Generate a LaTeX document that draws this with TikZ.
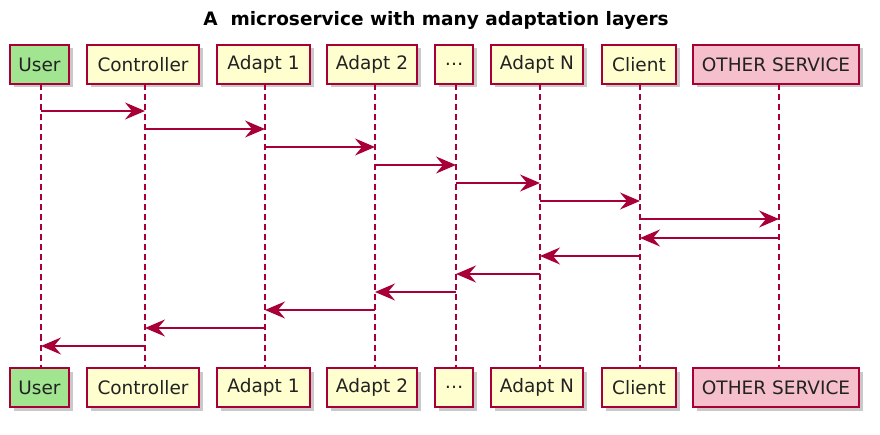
\documentclass[tikz,border=0pt]{standalone}
\usepackage{fontspec}
\setmainfont{DejaVu Sans}
\usetikzlibrary{arrows.meta,shadows}
\definecolor{pborder}{HTML}{A80036}
\definecolor{pfill}{HTML}{FEFECE}
\definecolor{pgreen}{HTML}{A2E591}
\definecolor{ppink}{HTML}{F5C0CB}
\definecolor{ptext}{HTML}{222222}
\begin{document}
\begin{tikzpicture}[x=1pt,y=-1pt,
  part/.style={draw=pborder,line width=1.3pt,fill=pfill,minimum height=39pt,inner sep=0pt,
     text=ptext,font=\fontsize{18.5}{22}\selectfont,
     drop shadow={shadow xshift=3.5pt,shadow yshift=-3.5pt,opacity=0.35,fill=black!60}},
  life/.style={draw=pborder,line width=1.2pt,dash pattern=on 6pt off 4pt},
  msg/.style={draw=pborder,line width=1.4pt,arrows={-Stealth[length=20pt,width=17pt,inset=7pt]}}]
\useasboundingbox (0,0) rectangle (880,435);
\fill[white] (0,0) rectangle (880,435);
\node[font=\bfseries\fontsize{18.5}{22}\selectfont] (title) at (436,20) {A\ \ microservice with many adaptation layers};
% participants: name, left, right, lifeline x
\foreach \n/\l/\r/\lx/\t/\c in {
  u/10/69/41/User/pgreen,
  c/87/199/145/Controller/pfill,
  a1/217/310/265/Adapt 1/pfill,
  a2/327/417/375/Adapt 2/pfill,
  d/435/473/456/…/pfill,
  an/491/583/540/Adapt N/pfill,
  cl/602/676/640/Client/pfill,
  o/693/859/779/OTHER SERVICE/ppink}{
  \node[part,fill=\c,minimum width={\r-\l}] (\n top) at ({(\l+\r)/2},64.5) {\t};
  \node[part,fill=\c,minimum width={\r-\l}] (\n bot) at ({(\l+\r)/2},387.5) {\t};
  \coordinate (\n) at (\lx,84.5);
  \coordinate (\n end) at (\lx,368);
  \draw[life] (\n) -- (\n end);
}
\draw[msg] (u |- 0,111) -- (c |- 0,111);
\draw[msg] (c |- 0,129) -- (a1 |- 0,129);
\draw[msg] (a1 |- 0,147) -- (a2 |- 0,147);
\draw[msg] (a2 |- 0,165) -- (d |- 0,165);
\draw[msg] (d |- 0,183) -- (an |- 0,183);
\draw[msg] (an |- 0,201) -- (cl |- 0,201);
\draw[msg] (cl |- 0,219) -- (o |- 0,219);
\draw[msg] (o |- 0,238) -- (cl |- 0,238);
\draw[msg] (cl |- 0,256) -- (an |- 0,256);
\draw[msg] (an |- 0,274) -- (d |- 0,274);
\draw[msg] (d |- 0,292) -- (a2 |- 0,292);
\draw[msg] (a2 |- 0,310) -- (a1 |- 0,310);
\draw[msg] (a1 |- 0,328) -- (c |- 0,328);
\draw[msg] (c |- 0,346) -- (u |- 0,346);
\end{tikzpicture}
\end{document}
